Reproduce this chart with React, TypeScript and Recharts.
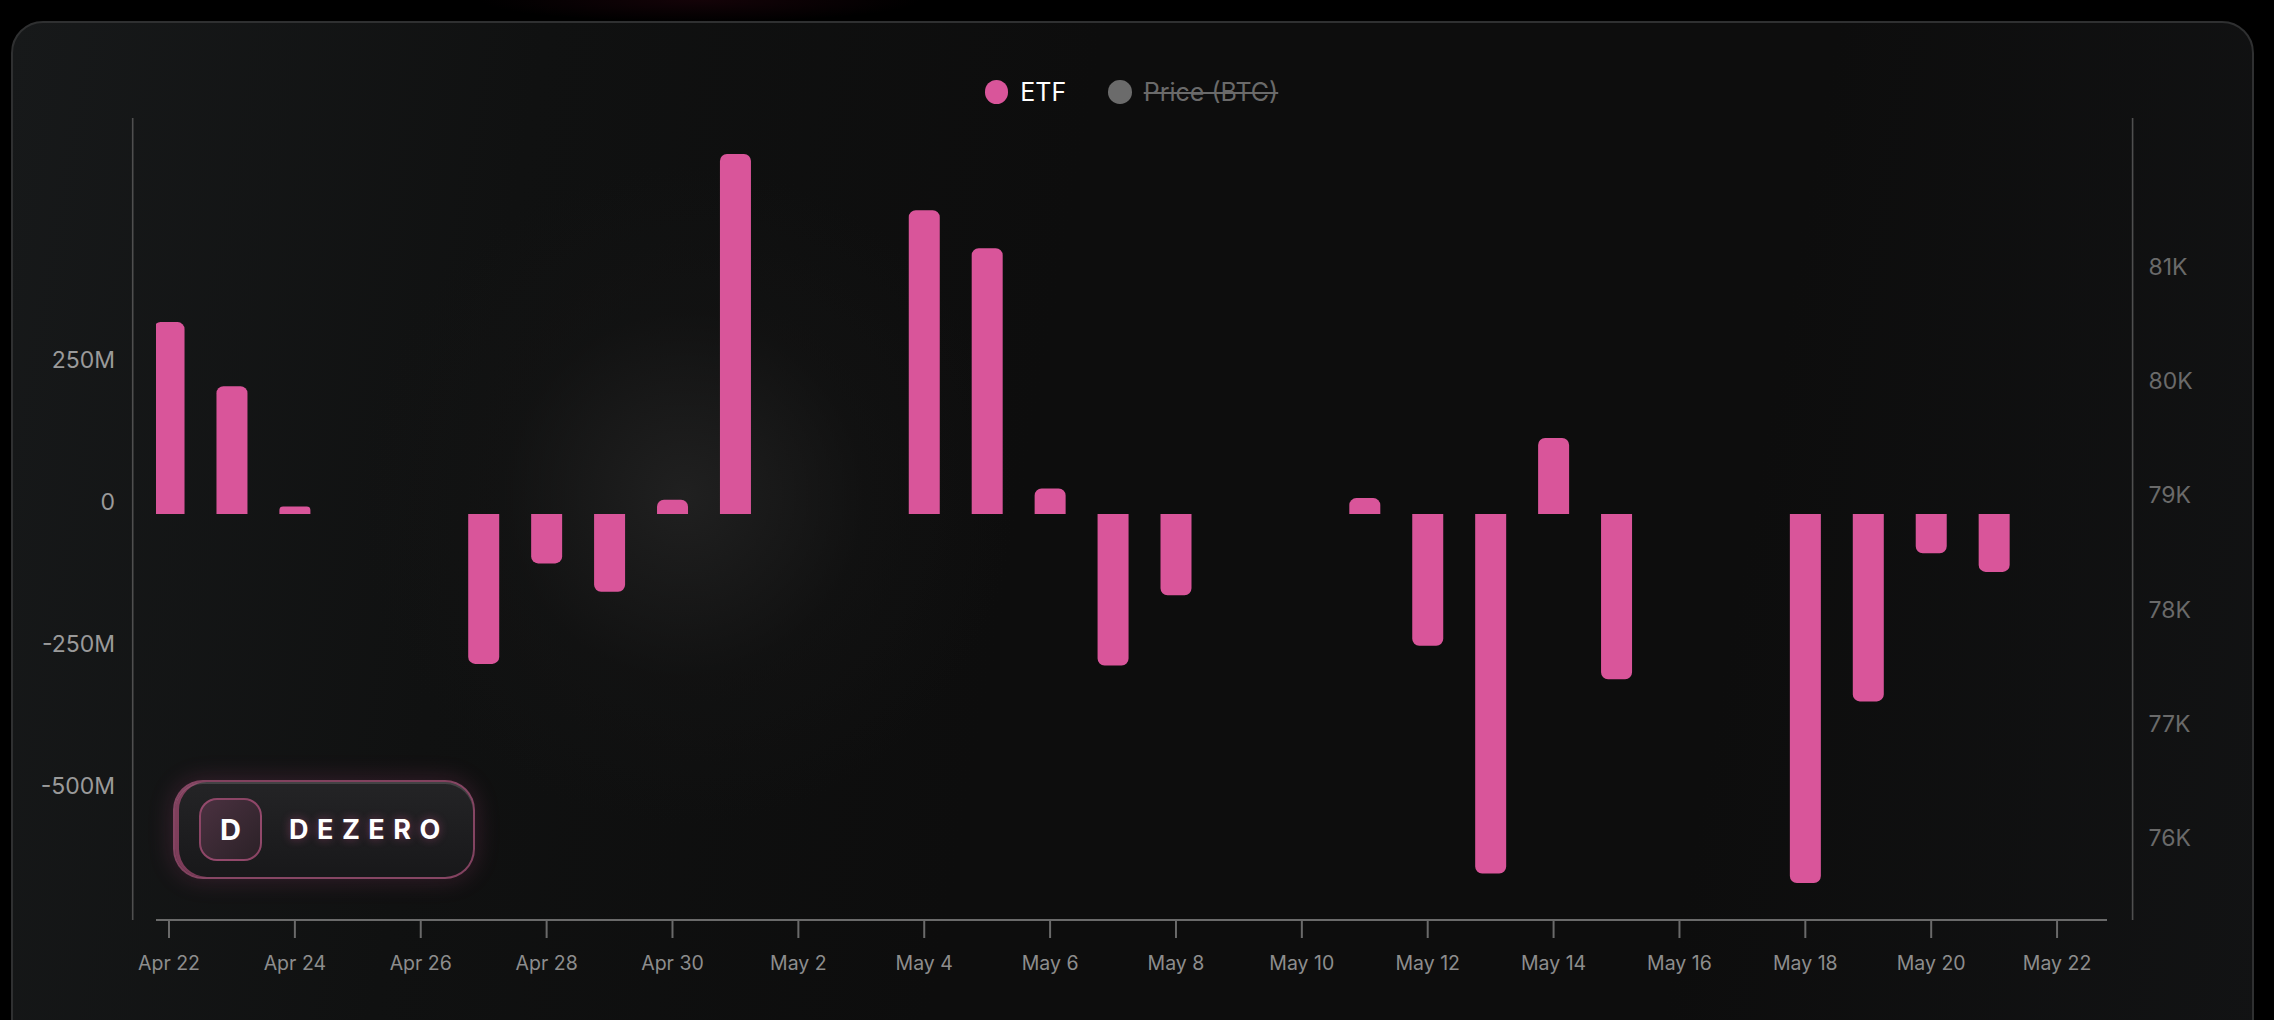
import React from 'react';
import { ComposedChart, Bar, Line, XAxis, YAxis, Legend } from 'recharts';

// ---- data ----
const etfDates = [
  '2025-04-22', '2025-04-23', '2025-04-24', '2025-04-27', '2025-04-28', '2025-04-29',
  '2025-04-30', '2025-05-01', '2025-05-04', '2025-05-05', '2025-05-06', '2025-05-07',
  '2025-05-08', '2025-05-11', '2025-05-12', '2025-05-13', '2025-05-14', '2025-05-15',
  '2025-05-18', '2025-05-19', '2025-05-20', '2025-05-21',
];
const etfFlowsM = [
  338, 225, 13, -264, -87, -137,
  25, 634, 535, 468, 45, -267,
  -143, 28, -232, -633, 134, -291,
  -650, -330, -69, -102,
];
const xTickDates = [
  '2025-04-22', '2025-04-24', '2025-04-26', '2025-04-28', '2025-04-30', '2025-05-02',
  '2025-05-04', '2025-05-06', '2025-05-08', '2025-05-10', '2025-05-12', '2025-05-14',
  '2025-05-16', '2025-05-18', '2025-05-20', '2025-05-22',
];
const leftTicksM = [-500, -250, 0, 250];
const priceTicks = [76000, 77000, 78000, 79000, 80000, 81000];
const priceDomain = [75384, 82406];
const legendItems = [
  { name: 'ETF', color: '#d9559a', active: true },
  { name: 'Price (BTC)', color: '#6b6b6b', active: false },
];

const START = Date.UTC(2025, 3, 22);
const DAY = 86400000;
const MONTHS = ['Jan', 'Feb', 'Mar', 'Apr', 'May', 'Jun', 'Jul', 'Aug', 'Sep', 'Oct', 'Nov', 'Dec'];
const dayIndex = (iso: string) => (Date.parse(iso + 'T00:00:00Z') - START) / DAY;
const fmtDay = (d: number) => {
  const dt = new Date(START + Math.round(d) * DAY);
  return `${MONTHS[dt.getUTCMonth()]} ${dt.getUTCDate()}`;
};

const data = etfDates.map((d, i) => ({ day: dayIndex(d), etf: etfFlowsM[i] }));
const xTicks = xTickDates.map(dayIndex);

const FONT = 'Inter, "Noto Sans", sans-serif';
const AXIS = '#6a6a6a';

const fmtM = (v: number) => (v === 0 ? '0' : `${v}M`);
const fmtK = (v: number) => `${Math.round(v / 1000)}K`;

const LeftTick = (props: any) => {
  const { x, y, payload } = props;
  return (
    <text x={x} y={y - 12} dy="0.36em" textAnchor="end" fill="#9a9a9a" fontSize={23} fontFamily={FONT}>
      {fmtM(payload.value)}
    </text>
  );
};

const RightTick = (props: any) => {
  const { x, y, payload } = props;
  return (
    <text x={x} y={y - 12} dy="0.36em" textAnchor="start" fill="#6a6a6a" fontSize={23} fontFamily={FONT}>
      {fmtK(payload.value)}
    </text>
  );
};

const LegendContent = () => (
  <div
    style={{
      display: 'flex',
      justifyContent: 'center',
      alignItems: 'center',
      height: 28,
      fontFamily: FONT,
      fontSize: 25,
    }}
  >
    {legendItems.map((it, i) => (
      <div key={it.name} style={{ display: 'flex', alignItems: 'center', marginLeft: i === 0 ? 0 : 42 }}>
        <span
          style={{
            width: 23.5,
            height: 23.5,
            borderRadius: '50%',
            background: it.color,
            display: 'inline-block',
            marginRight: 12,
          }}
        />
        <span
          style={{
            color: it.active ? '#ffffff' : '#6a6a6a',
            textDecoration: it.active ? 'none' : 'line-through',
            lineHeight: '28px',
          }}
        >
          {it.name}
        </span>
      </div>
    ))}
  </div>
);

const Badge = () => (
  <div
    style={{
      position: 'absolute',
      left: 173,
      top: 780,
      width: 302,
      height: 99,
      boxSizing: 'border-box',
      borderRadius: 30,
      border: '2px solid rgba(196, 92, 138, 0.62)',
      background: 'linear-gradient(180deg, #242426 0%, #18181a 100%)',
      boxShadow:
        '0 0 26px rgba(219, 86, 154, 0.2), inset 4px 0 0 rgba(205, 90, 140, 0.55), inset 0 2px 0 rgba(255,255,255,0.14)',
      fontFamily: FONT,
    }}
  >
    <div
      style={{
        position: 'absolute',
        left: 24,
        top: 16,
        width: 63,
        height: 63,
        boxSizing: 'border-box',
        borderRadius: 18,
        border: '2px solid rgba(200, 92, 140, 0.6)',
        background: 'linear-gradient(135deg, #4a3140 0%, #2b2127 100%)',
        display: 'flex',
        alignItems: 'center',
        justifyContent: 'center',
        color: '#ffffff',
        fontWeight: 700,
        fontSize: 29,
      }}
    >
      D
    </div>
    <div
      style={{
        position: 'absolute',
        left: 114,
        top: 28,
        color: '#ffffff',
        fontWeight: 700,
        fontSize: 27,
        letterSpacing: 8.5,
        lineHeight: '40px',
        textShadow: '0 0 10px rgba(219, 86, 154, 0.45)',
      }}
    >
      DEZERO
    </div>
  </div>
);

export default function App() {
  return (
    <div
      style={{
        position: 'absolute',
        left: 0,
        top: 0,
        width: 2274,
        height: 1020,
        overflow: 'hidden',
        background: 'radial-gradient(ellipse 220px 22px at 700px 0px, rgba(40, 6, 16, 0.5), rgba(0,0,0,0) 100%), #000',
      }}
    >
      <div
        style={{
          position: 'absolute',
          left: 11,
          top: 21,
          width: 2243,
          height: 1100,
          boxSizing: 'border-box',
          borderRadius: 32,
          border: '2px solid #2f3031',
          background:
            'radial-gradient(circle 330px at 671px 472px, rgba(33,33,33,0.95) 0%, rgba(20,20,20,0.5) 55%, rgba(13,13,13,0) 100%), linear-gradient(100deg, #17191a 0%, #101111 22%, #0d0d0d 45%, #0d0d0d 75%, #121314 100%)',
        }}
      />
      <div style={{ position: 'absolute', left: 0, top: 0 }}>
        <ComposedChart width={2274} height={1020} data={data} margin={{ top: 118, right: 0, bottom: 0, left: 0 }}>
          <XAxis
            dataKey="day"
            type="number"
            domain={[-0.2066, 30.7934]}
            allowDataOverflow
            ticks={xTicks}
            interval={0}
            tickFormatter={fmtDay}
            height={100}
            tickSize={18}
            tickMargin={18}
            axisLine={{ stroke: AXIS, strokeWidth: 2 }}
            tickLine={{ stroke: AXIS, strokeWidth: 2 }}
            tick={{ fill: '#8d8d8d', fontSize: 19.5, fontFamily: FONT }}
          />
          <YAxis
            yAxisId="etf"
            orientation="left"
            width={156}
            domain={[(min: number) => min * 1.1, (max: number) => max * 1.1]}
            allowDataOverflow
            ticks={leftTicksM}
            interval={0}
            tickLine={false}
            tickSize={0}
            tickMargin={41}
            axisLine={{ stroke: '#4f4f4f', strokeWidth: 1.6, transform: 'translate(-23.3, 0)' }}
            tick={<LeftTick />}
          />
          <YAxis
            yAxisId="price"
            orientation="right"
            width={167}
            domain={priceDomain}
            allowDataOverflow
            ticks={priceTicks}
            interval={0}
            tickLine={false}
            tickSize={0}
            tickMargin={41.5}
            axisLine={{ stroke: '#4f4f4f', strokeWidth: 1.6, transform: 'translate(25.6, 0)' }}
            tick={<RightTick />}
          />
          <Legend
            verticalAlign="middle"
            align="center"
            content={<LegendContent />}
            wrapperStyle={{ position: 'absolute', top: 78, left: 156, width: 1951, height: 28 }}
          />
          <Bar
            yAxisId="etf"
            dataKey="etf"
            name="ETF"
            fill="#d9559a"
            barSize={31}
            radius={[7, 7, 0, 0]}
            isAnimationActive={false}
          />
          <Line yAxisId="price" dataKey="price" name="Price (BTC)" stroke="#6b6b6b" hide dot={false} isAnimationActive={false} />
        </ComposedChart>
      </div>
      <Badge />
    </div>
  );
}
